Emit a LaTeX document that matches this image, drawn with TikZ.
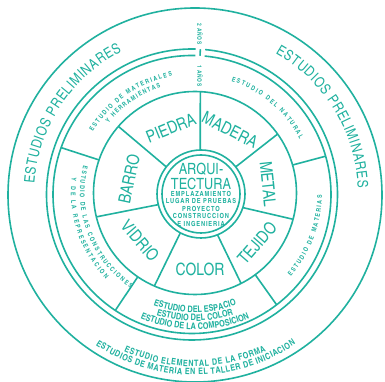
\documentclass[tikz,border=0pt]{standalone}
\usepackage{fontspec}
\IfFontExistsTF{texgyreheroscn-regular.otf}{\setmainfont{texgyreheroscn-regular.otf}[BoldFont=texgyreheroscn-bold.otf]}{\setmainfont{TeX Gyre Heros}}
\usetikzlibrary{calc,decorations.text}
\definecolor{tl}{RGB}{32,177,159}
\newcommand\curvtext[6]{%
  \path[decorate,decoration={text along path,text align=fit to path,
    text={|\color{tl}\fontsize{#5}{#5}\selectfont|#6}}]
    ($(#1)+(#3:#2)$) arc[start angle=#3,end angle=#4,radius=#2];}
\newcommand\curvbtext[6]{%
  \path[decorate,decoration={text along path,text align=fit to path,
    text={|\color{tl}\fontsize{#5}{#5}\selectfont\bfseries|#6}}]
    ($(#1)+(#3:#2)$) arc[start angle=#3,end angle=#4,radius=#2];}
\newcommand\curvctext[6]{%
  \path[decorate,decoration={text along path,text align=center,
    text={|\color{tl}\fontsize{#5}{#5}\selectfont\bfseries|#6}}]
    ($(#1)+(#3:#2)$) arc[start angle=#3,end angle=#4,radius=#2];}
\tikzset{
  ring/.style={draw=tl,line width=1.6pt},
  divline/.style={draw=tl,line width=1.6pt},
  mat/.style={text=tl,inner sep=0pt,font=\fontsize{17}{17}\selectfont},
  bigc/.style={text=tl,inner sep=0pt,font=\fontsize{15.5}{15.5}\selectfont},
  smc/.style={text=tl,inner sep=0pt,font=\fontsize{7}{7}\selectfont\bfseries\addfontfeatures{LetterSpace=12}},
  yrs/.style={text=tl,inner sep=0pt,rotate=-90,font=\fontsize{6}{6}\selectfont\bfseries\addfontfeatures{LetterSpace=10}}
}
\begin{document}
\begin{tikzpicture}[x=1pt,y=1pt]
\useasboundingbox (0,0) rectangle (385,382);
\coordinate (c1) at (195,187);
\coordinate (c2) at (192,187.5);
\coordinate (c3) at (195,189);
\coordinate (ci) at (201,188);
% rings
\draw[ring] (c1) circle[radius=187];
\draw[ring] ($(c2)+(88.6:145.5)$) arc[start angle=88.6,end angle=444.8,radius=145.5];
\draw[ring] ($(c2)+(88.6:139)$) arc[start angle=88.6,end angle=444.8,radius=139];
\draw[ring] (c3) circle[radius=101.5];
\draw[ring] (ci) circle[radius=44];
\draw[ring] (ci) circle[radius=39];
% top tick across the double ring
\coordinate (tka) at ($(c2)+(86.7:139)$);
\coordinate (tkb) at ($(c2)+(86.7:145.5)$);
\draw[divline] (tka) -- (tkb);
% dividers of the material ring
\foreach \a/\b [count=\i] in {91/87,38/35.5,-18/-15,-68/-63,-118/-113.6,194/193.6,142/139}{
  \coordinate (mi\i) at ($(ci)+(\a:44)$);
  \coordinate (mo\i) at ($(c3)+(\b:101.5)$);
  \draw[divline] (mi\i) -- (mo\i);
}
% dividers of the study ring
\foreach \a/\b [count=\i] in {161/160.3,16/16,-53.6/-52.5,-124.3/-123.5}{
  \coordinate (si\i) at ($(c3)+(\a:101.5)$);
  \coordinate (so\i) at ($(c2)+(\b:139)$);
  \draw[divline] (si\i) -- (so\i);
}
% outer texts
\curvtext{c1}{161}{176}{117}{14.5}{ESTUDIOS PRELIMINARES}
\curvtext{c1}{163}{60.5}{2.5}{14.5}{ESTUDIOS PRELIMINARES}
\curvbtext{c1}{171.5}{-114.5}{-65.5}{8.8}{ESTUDIO ELEMENTAL DE LA FORMA}
\curvbtext{c1}{180}{-123.5}{-56}{8.8}{ESTUDIOS DE MATERIA EN EL TALLER DE INICIACION}
\node[yrs] (y2) at (200,348) {2 AÑOS};
\node[yrs] (y1) at (200,306) {1 AÑOS};
% study ring texts
\curvbtext{c3}{119}{149}{101}{6.5}{ESTUDIO DE MATERIALES}
\curvbtext{c3}{111}{141}{108}{6.5}{Y HERRAMIENTAS}
\curvbtext{c3}{117.5}{72}{27}{6.5}{ESTUDIO DEL NATURAL}
\curvbtext{c3}{127}{-41}{-1}{6.5}{ESTUDIO DE MATERIAS}
\curvbtext{c3}{115}{166}{236}{6.5}{ESTUDIO DE LAS CONSTRUCCIONES}
\curvbtext{c3}{124}{173}{224}{6.5}{Y DE LA REPRESENTACION}
\curvctext{c3}{119.5}{-140}{-40}{9}{ESTUDIO DEL ESPACIO}
\curvctext{c3}{128}{-140}{-40}{9}{ESTUDIO DEL COLOR}
\curvctext{c3}{136.5}{-140}{-40}{9}{ESTUDIO DE LA COMPOSICION}
% materials
\node[mat,rotate=22] (piedra) at (171,254) {PIEDRA};
\node[mat,rotate=-27] (madera) at (230,252) {MADERA};
\node[mat,rotate=-84] (metal) at (268,198) {METAL};
\node[mat,rotate=49] (tejido) at (257,139) {TEJIDO};
\node[mat] (color) at (200,113) {COLOR};
\node[mat,rotate=-49] (vidrio) at (140,141) {VIDRIO};
\node[mat,rotate=78] (barro) at (129,203) {BARRO};
% centre
\node[bigc] (a1) at (201,213) {ARQUI-};
\node[bigc] (a2) at (201,198.5) {TECTURA};
\node[smc] (s1) at (201,188.5) {EMPLAZAMIENTO};
\node[smc] (s2) at (201,181.5) {LUGAR DE PRUEBAS};
\node[smc] (s3) at (201,173.5) {PROYECTO};
\node[smc] (s4) at (201,166.5) {CONSTRUCCION};
\node[smc] (s5) at (201,158.5) {E INGENIERIA};
\end{tikzpicture}
\end{document}
